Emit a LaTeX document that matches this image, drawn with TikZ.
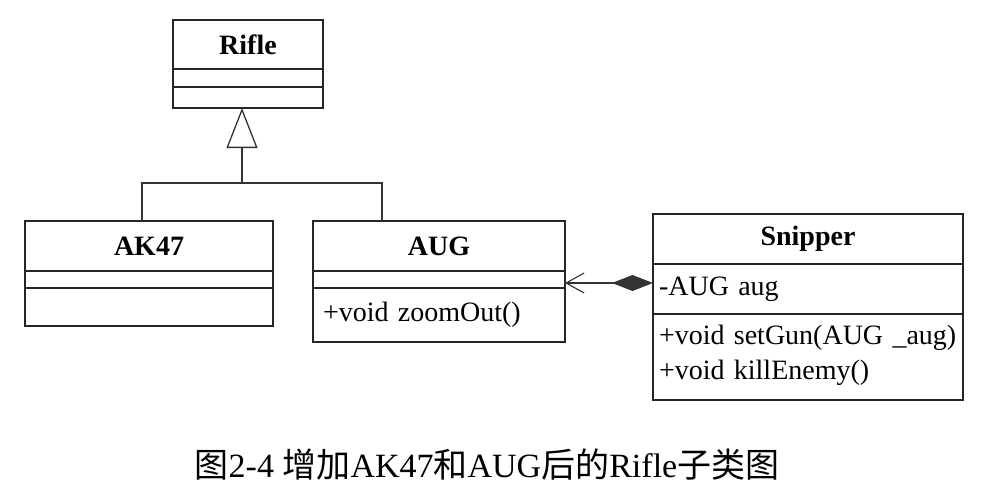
\documentclass[tikz,border=0pt]{standalone}
\usepackage{fontspec}
\setmainfont{Liberation Serif}
\newfontfamily\cjk{Noto Sans CJK SC}
\usepackage{tikz}
\usetikzlibrary{
  arrows.meta,
  positioning,
  calc
}

\begin{document}
\begin{tikzpicture}[
  x=1pt, y=-1pt,
  every node/.style={font=\fontsize{28}{33}\selectfont, inner sep=0pt, outer sep=0pt},
  part/.style={draw=black!85, line width=1.3pt, anchor=north west, minimum height=#1},
  cname/.style={font=\fontsize{28}{33}\selectfont\bfseries},
  member/.style={align=left, text width=300pt},
  link/.style={draw=black!80, line width=1.3pt},
  gen/.style={link, -{Triangle[open, length=40pt, width=31pt, line width=1.3pt, fill=white]}},
  comp/.style={link, {Diamond[length=41pt, width=16pt]}-{Straight Barb[length=18pt, width=20pt, line width=1.1pt]}}
]
  \useasboundingbox (0,0) rectangle (988,496);

  % Rifle
  \node[part=49pt, minimum width=150pt, cname] (riflename) at (173,20) {Rifle};
  \node[part=18pt, minimum width=150pt] (rifleattr) at (riflename.south west) {};
  \node[part=21pt, minimum width=150pt] (riflemeth) at (rifleattr.south west) {};

  % AK47
  \node[part=50pt, minimum width=248pt, cname] (akname) at (25,221) {AK47};
  \node[part=17pt, minimum width=248pt] (akattr) at (akname.south west) {};
  \node[part=38pt, minimum width=248pt] (akmeth) at (akattr.south west) {};

  % AUG
  \node[part=50pt, minimum width=252pt, cname] (augname) at (313,221) {AUG};
  \node[part=17pt, minimum width=252pt] (augattr) at (augname.south west) {};
  \node[part=54pt, minimum width=252pt] (augmeth) at (augattr.south west) {};
  \node[member, anchor=west] (augzoom) at (323,315) {+void zoomOut()};

  % Snipper
  \node[part=50pt, minimum width=310pt, cname] (snipname) at (653,214) {Snipper};
  \node[part=50pt, minimum width=310pt] (snipattr) at (snipname.south west) {};
  \node[part=86pt, minimum width=310pt] (snipmeth) at (snipattr.south west) {};
  \node[member, anchor=west] (snipaug) at (659,289) {-AUG aug};
  \node[member, anchor=west] (snipset) at (659,338) {+void setGun(AUG \_aug)};
  \node[member, anchor=west] (snipkill) at (659,373) {+void killEnemy()};

  % inheritance
  \coordinate (split) at (242,183);
  \draw[link] ([xshift=-7pt]akname.north) |- (split);
  \draw[link] ([xshift=-57pt]augname.north) |- (split);
  \draw[gen] (split) -- (split |- riflemeth.south);

  % composition
  \draw[comp] ([yshift=6pt]snipattr.west) -- ([yshift=6pt]snipattr.west -| augattr.east);

  % caption
  \node[font=\fontsize{34}{40}\selectfont] (caption) at (487,465)
    {{\cjk 图}2-4 {\cjk 增加}AK47{\cjk 和}AUG{\cjk 后的}Rifle{\cjk 子类图}};

\end{tikzpicture}
\end{document}
